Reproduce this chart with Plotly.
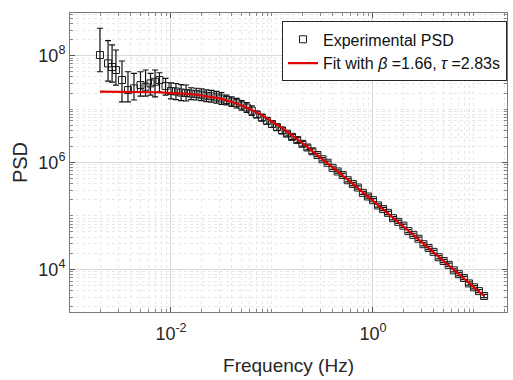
import plotly.graph_objects as go

# Frequencies (Hz)
freq = [0.00198, 0.00238, 0.00261, 0.00285, 0.00327, 0.00375, 0.00430, 0.00499, 0.00560,
        0.00627, 0.00695, 0.00769, 0.00883,
        0.0100, 0.0112, 0.0126, 0.0141, 0.0158, 0.0178, 0.0200, 0.0224, 0.0251, 0.0282,
        0.0316, 0.0355, 0.0398, 0.0447, 0.0501, 0.0562, 0.0631, 0.0708, 0.0794, 0.0891,
        0.100, 0.112, 0.126, 0.141, 0.158, 0.178, 0.200, 0.224, 0.251, 0.282,
        0.316, 0.355, 0.398, 0.447, 0.501, 0.562, 0.631, 0.708, 0.794, 0.891,
        1.00, 1.12, 1.26, 1.41, 1.58, 1.78, 2.00, 2.24, 2.51, 2.82,
        3.16, 3.55, 3.98, 4.47, 5.01, 5.62, 6.31, 7.08, 7.94, 8.91,
        10.0, 11.2, 12.6]

# Experimental PSD
psd = [1.03e8, 7.19e7, 6.14e7, 5.40e7, 3.50e7, 2.27e7, 2.44e7, 2.82e7, 2.62e7,
       3.03e7, 3.25e7, 3.50e7, 2.70e7,
       2.19e7, 2.14e7, 2.04e7, 2.00e7, 1.95e7, 1.91e7, 1.86e7, 1.78e7, 1.74e7, 1.66e7,
       1.58e7, 1.48e7, 1.38e7, 1.29e7, 1.17e7, 1.07e7, 9.33e6, 7.94e6, 6.92e6, 6.03e6,
       5.25e6, 4.57e6, 3.98e6, 3.47e6, 3.02e6, 2.63e6, 2.24e6, 1.91e6, 1.62e6, 1.38e6,
       1.15e6, 9.89e5, 7.94e5, 6.79e5, 5.82e5, 4.66e5, 3.97e5, 3.40e5, 2.70e5, 2.31e5,
       1.97e5, 1.57e5, 1.34e5, 1.14e5, 9.06e4, 7.74e4, 6.56e4, 5.19e4, 4.41e4, 3.73e4,
       2.95e4, 2.51e4, 2.12e4, 1.68e4, 1.43e4, 1.21e4, 9.55e3, 8.09e3, 6.87e3, 5.43e3,
       4.60e3, 3.90e3, 3.16e3]

# Upper / lower ends of the error bars
psd_hi = [3.27e8, 1.91e8, 1.59e8, 1.28e8, 7.96e7, 5.01e7, 4.68e7, 5.01e7, 5.40e7,
          4.68e7, 5.40e7, 4.80e7, 3.77e7,
          3.09e7, 3.02e7, 2.88e7, 2.83e7, 2.51e7, 2.46e7, 2.40e7, 2.29e7, 2.24e7, 2.14e7,
          2.04e7, 1.82e7, 1.70e7, 1.59e7, 1.44e7, 1.32e7, 1.15e7, 9.12e6, 7.94e6, 6.92e6,
          6.03e6, 5.25e6, 4.57e6, 3.85e6, 3.35e6, 2.92e6, 2.48e6, 2.12e6, 1.80e6, 1.48e6,
          1.23e6, 1.06e6, 8.51e5, 7.28e5, 6.24e5, 5.00e5, 4.26e5, 3.64e5, 2.89e5, 2.48e5,
          2.11e5, 1.68e5, 1.44e5, 1.22e5, 9.71e4, 8.30e4, 7.03e4, 5.56e4, 4.73e4, 4.00e4,
          3.16e4, 2.69e4, 2.27e4, 1.80e4, 1.53e4, 1.30e4, 1.02e4, 8.67e3, 7.36e3, 5.82e3,
          4.93e3, 4.18e3, 3.39e3]
psd_lo = [5.01e7, 3.35e7, 3.21e7, 2.82e7, 1.37e7, 1.37e7, 1.48e7, 1.75e7, 1.75e7,
          1.83e7, 1.70e7, 2.11e7, 1.83e7,
          1.55e7, 1.51e7, 1.44e7, 1.42e7, 1.51e7, 1.48e7, 1.44e7, 1.38e7, 1.35e7, 1.29e7,
          1.23e7, 1.20e7, 1.12e7, 1.05e7, 9.51e6, 8.70e6, 7.59e6, 6.92e6, 6.03e6, 5.25e6,
          4.57e6, 3.98e6, 3.47e6, 3.13e6, 2.72e6, 2.37e6, 2.02e6, 1.72e6, 1.46e6, 1.29e6,
          1.07e6, 9.23e5, 7.41e5, 6.34e5, 5.43e5, 4.35e5, 3.70e5, 3.17e5, 2.52e5, 2.16e5,
          1.84e5, 1.46e5, 1.25e5, 1.06e5, 8.45e4, 7.22e4, 6.12e4, 4.84e4, 4.11e4, 3.48e4,
          2.75e4, 2.34e4, 1.98e4, 1.57e4, 1.33e4, 1.13e4, 8.91e3, 7.55e3, 6.41e3, 5.07e3,
          4.29e3, 3.64e3, 2.95e3]

# Fitted PSD curve
fit_psd = [2.13e7, 2.13e7, 2.12e7, 2.12e7, 2.12e7, 2.11e7, 2.11e7, 2.10e7, 2.09e7,
           2.08e7, 2.07e7, 2.06e7, 2.04e7,
           2.02e7, 2.00e7, 1.97e7, 1.94e7, 1.91e7, 1.86e7, 1.81e7, 1.76e7, 1.69e7, 1.62e7,
           1.55e7, 1.46e7, 1.37e7, 1.27e7, 1.17e7, 1.07e7, 9.66e6, 8.67e6, 7.71e6, 6.79e6,
           5.94e6, 5.15e6, 4.45e6, 3.81e6, 3.25e6, 2.75e6, 2.33e6, 1.96e6, 1.64e6, 1.38e6,
           1.15e6, 9.66e5, 8.13e5, 6.79e5, 5.69e5, 4.76e5, 3.97e5, 3.32e5, 2.77e5, 2.31e5,
           1.92e5, 1.60e5, 1.34e5, 1.11e5, 9.27e4, 7.74e4, 6.41e4, 5.31e4, 4.41e4, 3.65e4,
           3.02e4, 2.51e4, 2.07e4, 1.72e4, 1.43e4, 1.18e4, 9.77e3, 8.09e3, 6.71e3, 5.56e3,
           4.60e3, 3.81e3, 3.16e3]

# Axis tick positions and labels
x_tickvals = [1e-2, 1e0]
x_ticktext = ["10<sup>-2</sup>", "10<sup>0</sup>"]
y_tickvals = [1e4, 1e6, 1e8]
y_ticktext = ["10<sup>4</sup>", "10<sup>6</sup>", "10<sup>8</sup>"]

err_plus = [h - v for h, v in zip(psd_hi, psd)]
err_minus = [v - l for v, l in zip(psd, psd_lo)]

FONT = "Liberation Sans, Arial, sans-serif"

fig = go.Figure()
fig.add_trace(go.Scatter(
    x=freq, y=psd, mode="markers", name="Experimental PSD",
    marker=dict(symbol="square-open", size=7, color="#1a1a1a", line=dict(width=1)),
    error_y=dict(type="data", symmetric=False, array=err_plus, arrayminus=err_minus,
                 color="#111111", thickness=1.2, width=3),
))
fig.add_trace(go.Scatter(
    x=freq, y=fit_psd, mode="lines", name="Fit with <i>β</i> =1.66, <i>τ</i> =2.83s",
    line=dict(color="#e00000", width=2.2),
))

axis_common = dict(
    type="log", showline=True, linecolor="#7a7a7a", linewidth=1, mirror="ticks",
    ticks="inside", ticklen=5, tickcolor="#555555", tickmode="array",
    showgrid=True, gridcolor="#d9d9d9", gridwidth=1,
    zeroline=False, tickfont=dict(family=FONT, size=18, color="#262626"),
    minor=dict(dtick="D1", ticks="inside", ticklen=3, tickcolor="#888888",
               showgrid=True, gridcolor="#e8e8e8", griddash="dot"),
)

fig.update_layout(
    width=513, height=380,
    margin=dict(l=70, r=6, t=13, b=68),
    paper_bgcolor="white", plot_bgcolor="white",
    showlegend=True,
    legend=dict(x=1.0, xanchor="right", y=0.972, yanchor="top",
                bgcolor="white", bordercolor="#262626", borderwidth=1,
                font=dict(family=FONT, size=16, color="#111111"),
                tracegroupgap=0, itemwidth=30),
    xaxis=dict(axis_common, range=[-3, 1.327], tickvals=x_tickvals, ticktext=x_ticktext,
               ticklabelstandoff=5,
               title=dict(text="Frequency (Hz)", standoff=16,
                          font=dict(family=FONT, size=19, color="#262626"))),
    yaxis=dict(axis_common, range=[3.2, 8.8], tickvals=y_tickvals, ticktext=y_ticktext,
               title=dict(text="PSD", standoff=5,
                          font=dict(family=FONT, size=20, color="#262626"))),
)

fig.write_html("out.html")
